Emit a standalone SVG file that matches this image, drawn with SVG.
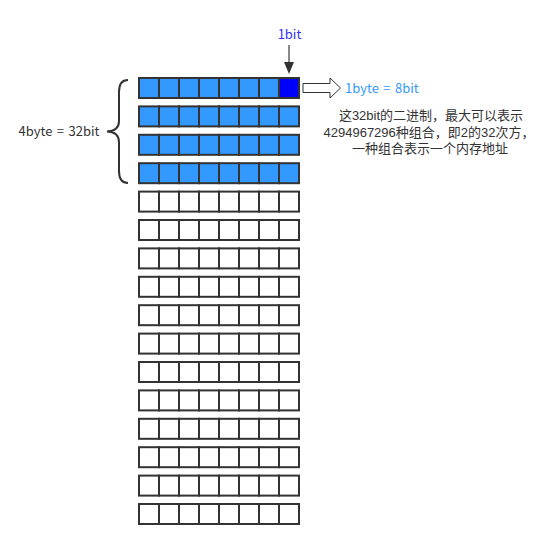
<svg xmlns="http://www.w3.org/2000/svg" xmlns:xlink="http://www.w3.org/1999/xlink" width="552" height="546" viewBox="0 0 552 546">
  <style>
    .cell { stroke: #333333; stroke-width: 2; }
    .blue { fill: #3399FF; }
    .white { fill: #FFFFFF; }
    .txt { font-family: "Noto Sans CJK SC", "Liberation Sans", sans-serif; font-size: 13px; }
    .lbl { word-spacing: 1.5px; }
    .note { font-family: "Liberation Sans", "Noto Sans CJK SC", sans-serif; font-size: 13px; fill: #333333; }
  </style>
  <defs>
    <g id="cells" class="cell">
      <rect x="139" y="0" width="20" height="20"/>
      <rect x="159" y="0" width="20" height="20"/>
      <rect x="179" y="0" width="20" height="20"/>
      <rect x="199" y="0" width="20" height="20"/>
      <rect x="219" y="0" width="20" height="20"/>
      <rect x="239" y="0" width="20" height="20"/>
      <rect x="259" y="0" width="20" height="20"/>
      <rect x="279" y="0" width="20" height="20"/>
    </g>
  </defs>
  <rect width="552" height="546" fill="#FFFFFF"/>

  <g id="memory">
    <g id="byte-0"><use xlink:href="#cells" class="blue" y="78"/><rect class="cell" x="279" y="78" width="20" height="20" fill="#0000FF"/></g>
    <g id="byte-1"><use xlink:href="#cells" class="blue" y="106.4"/></g>
    <g id="byte-2"><use xlink:href="#cells" class="blue" y="134.8"/></g>
    <g id="byte-3"><use xlink:href="#cells" class="blue" y="163.2"/></g>
    <g id="byte-4"><use xlink:href="#cells" class="white" y="191.6"/></g>
    <g id="byte-5"><use xlink:href="#cells" class="white" y="220"/></g>
    <g id="byte-6"><use xlink:href="#cells" class="white" y="248.4"/></g>
    <g id="byte-7"><use xlink:href="#cells" class="white" y="276.8"/></g>
    <g id="byte-8"><use xlink:href="#cells" class="white" y="305.2"/></g>
    <g id="byte-9"><use xlink:href="#cells" class="white" y="333.6"/></g>
    <g id="byte-10"><use xlink:href="#cells" class="white" y="362"/></g>
    <g id="byte-11"><use xlink:href="#cells" class="white" y="390.4"/></g>
    <g id="byte-12"><use xlink:href="#cells" class="white" y="418.8"/></g>
    <g id="byte-13"><use xlink:href="#cells" class="white" y="447.2"/></g>
    <g id="byte-14"><use xlink:href="#cells" class="white" y="475.6"/></g>
    <g id="byte-15"><use xlink:href="#cells" class="white" y="504"/></g>
  </g>

  <g id="label-1bit">
    <text class="txt" x="289.5" y="39" text-anchor="middle" fill="#3333FF">1bit</text>
  </g>
  <g id="label-1byte">
    <text class="txt lbl" x="345" y="93" fill="#3399FF">1byte = 8bit</text>
  </g>
  <g id="label-4byte">
    <text class="txt lbl" x="59" y="136" text-anchor="middle" fill="#333333">4byte = 32bit</text>
  </g>
  <g id="note">
    <text class="note" x="431" y="120" text-anchor="middle">这32bit的二进制，最大可以表示</text>
    <text class="note" x="429" y="136.5" text-anchor="middle">4294967296种组合，即2的32次方，</text>
    <text class="note" x="430" y="153" text-anchor="middle">一种组合表示一个内存地址</text>
  </g>

  <g id="connectors">
    <line x1="289" y1="45" x2="289" y2="63" stroke="#888888" stroke-width="2"/>
    <polygon points="284,62 294,62 289,74" fill="#333333"/>
    <polygon points="303,83.5 330,83.5 330,78 340.5,88 330,98 330,92.5 303,92.5" fill="#FFFFFF" stroke="#333333" stroke-width="1"/>
    <path d="M128,80 Q119,80 119,92 L119,121 Q119,131 107,131.5 Q119,132 119,142 L119,171 Q119,183 128,183" fill="none" stroke="#333333" stroke-width="2"/>
  </g>
</svg>
